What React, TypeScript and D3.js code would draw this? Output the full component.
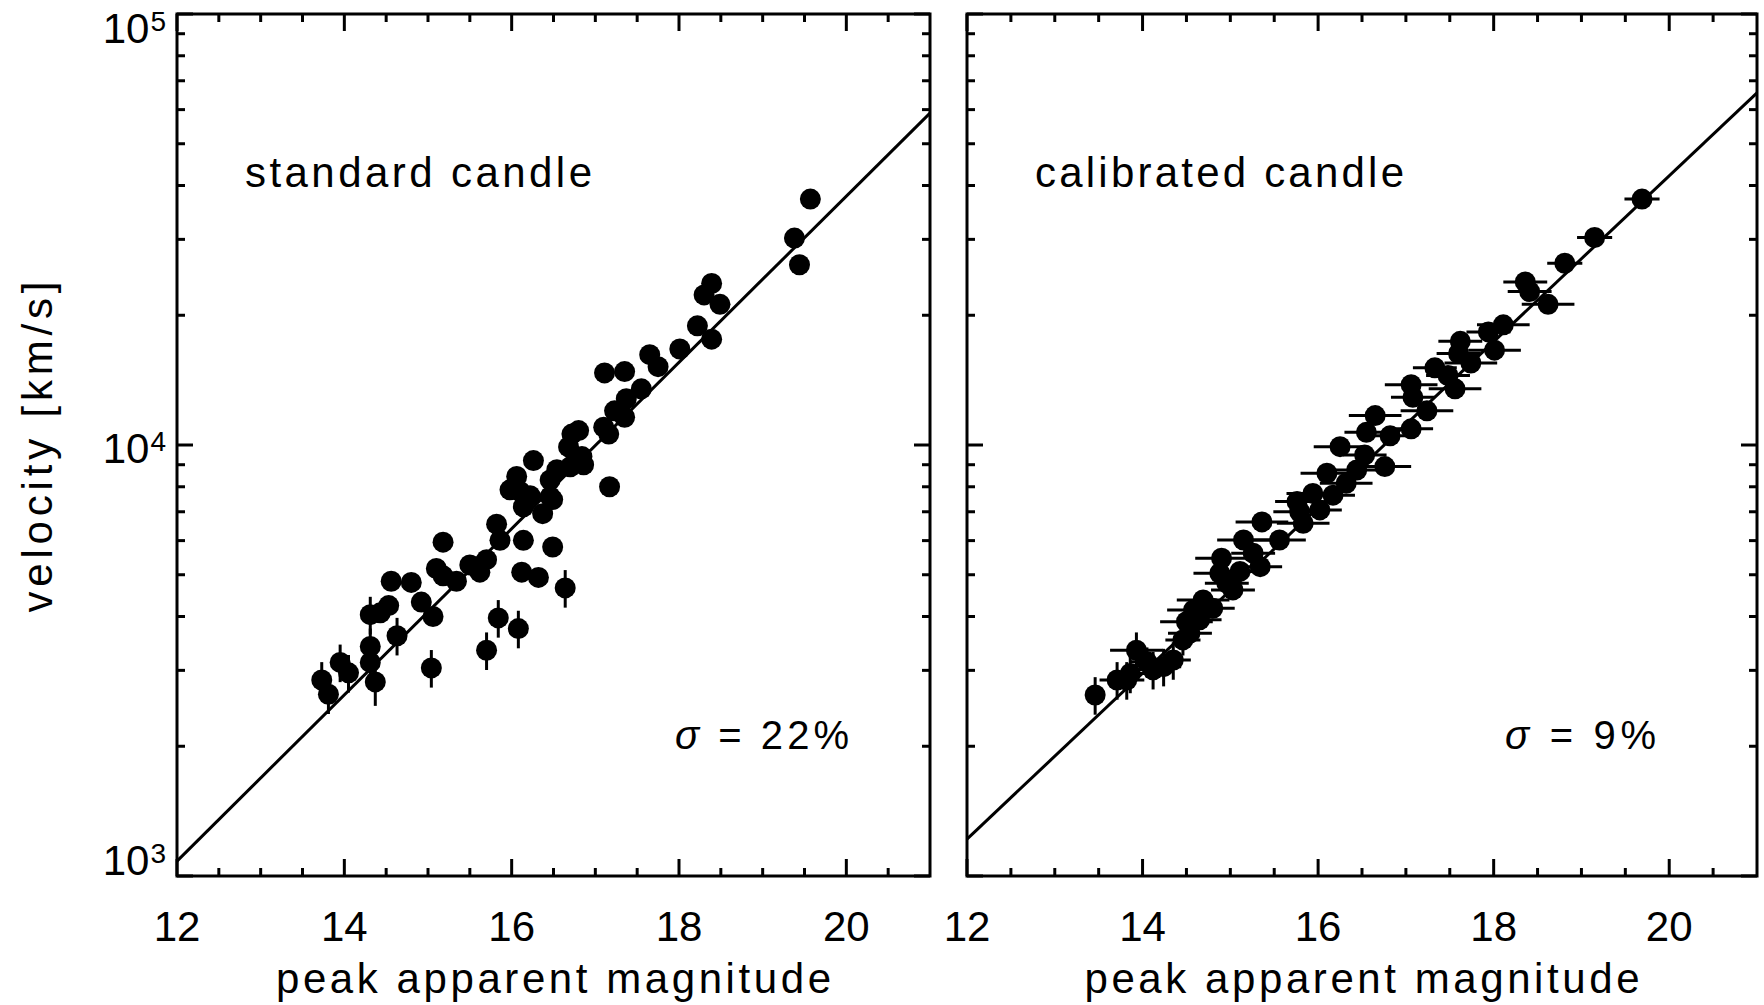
import React from "react";
import * as d3 from "d3";

// ---------- data ----------
const xTickValues = [12, 14, 16, 18, 20];
const yTickExponents = [3, 4, 5];
const panelTitles = ["standard candle", "calibrated candle"];
const sigmaValues = ["22%", "9%"];
const xTitle = "peak apparent magnitude";
const yTitle = "velocity [km/s]";

// standard candle: magnitude, velocity, fractional velocity error
const stdMag = [19.57, 19.38, 19.44, 18.39, 18.30, 18.49, 18.22, 18.39, 18.01, 17.65, 17.75, 17.11, 17.35, 17.55, 17.37, 17.35, 17.23, 17.10, 17.16, 16.72, 16.80, 16.68, 16.84, 16.86, 16.54, 16.70, 16.46, 16.26, 16.06, 15.98, 16.10, 16.46, 17.17, 16.22, 16.14, 16.49, 16.37, 15.82, 15.86, 16.14, 16.49, 15.70, 15.58, 15.34, 16.12, 16.32, 16.64, 15.84, 16.08, 15.70, 15.18, 15.10, 15.18, 15.50, 15.62, 14.56, 14.80, 14.31, 14.43, 14.53, 14.63, 14.92, 15.06, 15.04, 14.31, 14.31, 14.37, 13.95, 14.05, 13.73, 13.81];
const stdVel = [37200, 30200, 26200, 23700, 22300, 21200, 18900, 17600, 16700, 16200, 15200, 14700, 14800, 13500, 12800, 11600, 12000, 11000, 10600, 10600, 10800, 9900, 9400, 9000, 8760, 8900, 8300, 9200, 8450, 7870, 7800, 7590, 8000, 7630, 7190, 7470, 6930, 6550, 6010, 6010, 5800, 5420, 5220, 4830, 5070, 4930, 4660, 3970, 3750, 3340, 5950, 5170, 4970, 5270, 5070, 4830, 4800, 4040, 4080, 4240, 3610, 4320, 4000, 3040, 3410, 3130, 2820, 3130, 2960, 2850, 2640];
const stdVelErr = [0, 0, 0, 0, 0, 0, 0, 0, 0, 0, 0, 0, 0, 0, 0, 0, 0, 0, 0, 0, 0, 0, 0, 0, 0, 0, 0, 0, 0, 0, 0, 0, 0, 0, 0, 0, 0, 0, 0, 0, 0, 0, 0, 0, 0, 0, 0.1, 0.1, 0.1, 0.1, 0, 0, 0, 0, 0, 0, 0, 0.1, 0, 0, 0.1, 0, 0, 0.1, 0.1, 0.08, 0.12, 0.1, 0.1, 0.1, 0.1];

// calibrated candle: magnitude, magnitude error, velocity, fractional velocity error
const calMag = [19.69, 19.15, 18.81, 18.36, 18.41, 18.62, 18.11, 17.94, 18.01, 17.62, 17.60, 17.74, 17.33, 17.48, 17.56, 17.06, 17.08, 17.24, 16.65, 16.55, 16.82, 17.06, 16.25, 16.53, 16.76, 16.10, 16.44, 16.32, 15.94, 16.17, 15.76, 15.79, 16.02, 15.83, 15.36, 15.56, 15.15, 15.26, 14.90, 15.34, 15.11, 14.88, 14.96, 15.03, 14.69, 14.80, 14.58, 14.50, 14.65, 14.54, 14.46, 13.93, 14.35, 14.24, 14.12, 14.05, 13.86, 13.71, 13.82, 13.46];
const calMagErr = [0.2, 0.2, 0.2, 0.25, 0.25, 0.3, 0.3, 0.25, 0.3, 0.25, 0.25, 0.3, 0.25, 0.25, 0.3, 0.3, 0.25, 0.3, 0.3, 0.25, 0.3, 0.25, 0.3, 0.25, 0.3, 0.3, 0.25, 0.3, 0.3, 0.25, 0.25, 0.3, 0.25, 0.3, 0.3, 0.3, 0.3, 0.25, 0.3, 0.25, 0.25, 0.3, 0.25, 0.25, 0.3, 0.25, 0.3, 0.3, 0.25, 0.25, 0.2, 0.3, 0.2, 0.2, 0.2, 0.2, 0.2, 0.2, 0.2, 0.1];
const calVel = [37200, 30300, 26400, 23900, 22700, 21200, 19000, 18300, 16600, 17400, 16300, 15500, 15100, 14500, 13500, 13800, 12900, 12000, 11700, 10700, 10500, 10900, 9910, 9480, 8910, 8600, 8750, 8150, 7720, 7650, 7390, 7000, 7070, 6580, 6630, 6020, 6020, 5610, 5460, 5220, 5090, 5040, 4780, 4610, 4370, 4180, 4140, 3890, 3930, 3660, 3530, 3340, 3170, 3060, 3010, 3140, 2950, 2850, 2850, 2630];
const calVelErr = [0, 0, 0, 0, 0, 0, 0, 0, 0, 0, 0, 0, 0, 0, 0, 0, 0, 0, 0, 0, 0, 0, 0, 0, 0, 0, 0, 0, 0, 0, 0, 0, 0, 0, 0, 0, 0, 0, 0, 0, 0, 0, 0, 0, 0, 0, 0, 0, 0, 0, 0.08, 0.1, 0.1, 0.1, 0.1, 0.08, 0.1, 0.1, 0.1, 0.1];

// fitted lines (magnitude, velocity) at the panel edges
const stdFit = [[12, 1083], [21, 58900]];
const calFit = [[12, 1218], [21, 65600]];

// ---------- layout ----------
const W = 1764;
const H = 1005;
const TOP = 14;
const BOTTOM = 876;
const FONT = "'Liberation Sans', Arial, sans-serif";

type Pt = { m: number; v: number; me: number; ve: number };

const stdPts: Pt[] = stdMag.map((m, i) => ({ m, v: stdVel[i], me: 0, ve: stdVelErr[i] }));
const calPts: Pt[] = calMag.map((m, i) => ({ m, v: calVel[i], me: calMagErr[i], ve: calVelErr[i] }));

const panels = [
  { x0: 177, x1: 930, pts: stdPts, fit: stdFit, title: panelTitles[0], sigma: sigmaValues[0], titleX: 245, titleLen: 347, sigmaX: 675, sigmaLen: 174, yLabels: true },
  { x0: 967, x1: 1757, pts: calPts, fit: calFit, title: panelTitles[1], sigma: sigmaValues[1], titleX: 1035, titleLen: 369, sigmaX: 1505, sigmaLen: 151, yLabels: false },
];

function Panel({ p }: { p: (typeof panels)[number] }) {
  const x = d3.scaleLinear().domain([12, 21]).range([p.x0, p.x1]);
  const y = d3.scaleLog().domain([1e3, 1e5]).range([BOTTOM, TOP]);
  const minorX = d3.range(12, 21.001, 0.5).filter((v) => !xTickValues.includes(v) && v < 21);
  const minorY: number[] = [];
  [1e3, 1e4].forEach((d) => {
    for (let k = 2; k <= 9; k++) minorY.push(d * k);
  });
  const majorY = yTickExponents.map((e) => Math.pow(10, e));
  const line = d3.line<number[]>().x((d) => x(d[0])).y((d) => y(d[1]));
  const sw = 3;
  return (
    <g>
      {/* ticks */}
      {xTickValues.map((t) => (
        <g key={"mx" + t}>
          <line x1={x(t)} x2={x(t)} y1={BOTTOM} y2={BOTTOM - 17} stroke="#000" strokeWidth={sw} />
          <line x1={x(t)} x2={x(t)} y1={TOP} y2={TOP + 17} stroke="#000" strokeWidth={sw} />
        </g>
      ))}
      {minorX.map((t) => (
        <g key={"nx" + t}>
          <line x1={x(t)} x2={x(t)} y1={BOTTOM} y2={BOTTOM - 8} stroke="#000" strokeWidth={sw} />
          <line x1={x(t)} x2={x(t)} y1={TOP} y2={TOP + 8} stroke="#000" strokeWidth={sw} />
        </g>
      ))}
      {majorY.map((t) => (
        <g key={"my" + t}>
          <line x1={p.x0} x2={p.x0 + 16} y1={y(t)} y2={y(t)} stroke="#000" strokeWidth={sw} />
          <line x1={p.x1} x2={p.x1 - 16} y1={y(t)} y2={y(t)} stroke="#000" strokeWidth={sw} />
        </g>
      ))}
      {minorY.map((t) => (
        <g key={"ny" + t}>
          <line x1={p.x0} x2={p.x0 + 8} y1={y(t)} y2={y(t)} stroke="#000" strokeWidth={sw} />
          <line x1={p.x1} x2={p.x1 - 8} y1={y(t)} y2={y(t)} stroke="#000" strokeWidth={sw} />
        </g>
      ))}
      {/* frame */}
      <rect x={p.x0} y={TOP} width={p.x1 - p.x0} height={BOTTOM - TOP} fill="none" stroke="#000" strokeWidth={sw} />
      {/* x tick labels */}
      {xTickValues.map((t) => (
        <text key={"lx" + t} x={x(t)} y={941} textAnchor="middle" fontFamily={FONT} fontSize={42} fill="#000">
          {t}
        </text>
      ))}
      {/* y tick labels */}
      {p.yLabels &&
        yTickExponents.map((e) => {
          const c = Math.min(Math.max(y(Math.pow(10, e)) + 4, TOP + 15), BOTTOM - 15);
          return (
            <text key={"ly" + e} x={166} y={c + 14} textAnchor="end" fontFamily={FONT} fontSize={42} fill="#000">
              10
              <tspan fontSize={28} dx={1} dy={-12}>{e}</tspan>
            </text>
          );
        })}
      {/* x title */}
      <text x={(p.x0 + p.x1) / 2} y={993} textAnchor="middle" fontFamily={FONT} fontSize={42} textLength={555} lengthAdjust="spacing" fill="#000">
        {xTitle}
      </text>
      {/* panel labels */}
      <text x={p.titleX} y={187} fontFamily={FONT} fontSize={42} textLength={p.titleLen} lengthAdjust="spacing" fill="#000">
        {p.title}
      </text>
      <text x={p.sigmaX} y={749} fontFamily={FONT} fontSize={40} textLength={p.sigmaLen} lengthAdjust="spacing" fill="#000">
        <tspan fontStyle="italic">σ</tspan> = {p.sigma}
      </text>
      {/* fit line */}
      <path d={line(p.fit) || ""} fill="none" stroke="#000" strokeWidth={3} />
      {/* error bars */}
      {p.pts.map((d, i) => (
        <g key={"e" + i} stroke="#000" strokeWidth={3}>
          {d.me > 0 && <line x1={x(d.m - d.me)} x2={x(d.m + d.me)} y1={y(d.v)} y2={y(d.v)} />}
          {d.ve > 0 && <line x1={x(d.m)} x2={x(d.m)} y1={y(d.v * (1 - d.ve))} y2={y(d.v * (1 + d.ve))} />}
        </g>
      ))}
      {/* points */}
      {p.pts.map((d, i) => (
        <circle key={"c" + i} cx={x(d.m)} cy={y(d.v)} r={10.5} fill="#000" />
      ))}
    </g>
  );
}

export default function App() {
  return (
    <svg width={W} height={H} viewBox={`0 0 ${W} ${H}`} style={{ position: "absolute", left: 0, top: 0, background: "#fff" }}>
      <rect x={0} y={0} width={W} height={H} fill="#fff" />
      {panels.map((p, i) => (
        <Panel key={i} p={p} />
      ))}
      <text transform={`translate(52, 447) rotate(-90)`} textAnchor="middle" fontFamily={FONT} fontSize={42} textLength={331} lengthAdjust="spacing" fill="#000">
        {yTitle}
      </text>
    </svg>
  );
}
